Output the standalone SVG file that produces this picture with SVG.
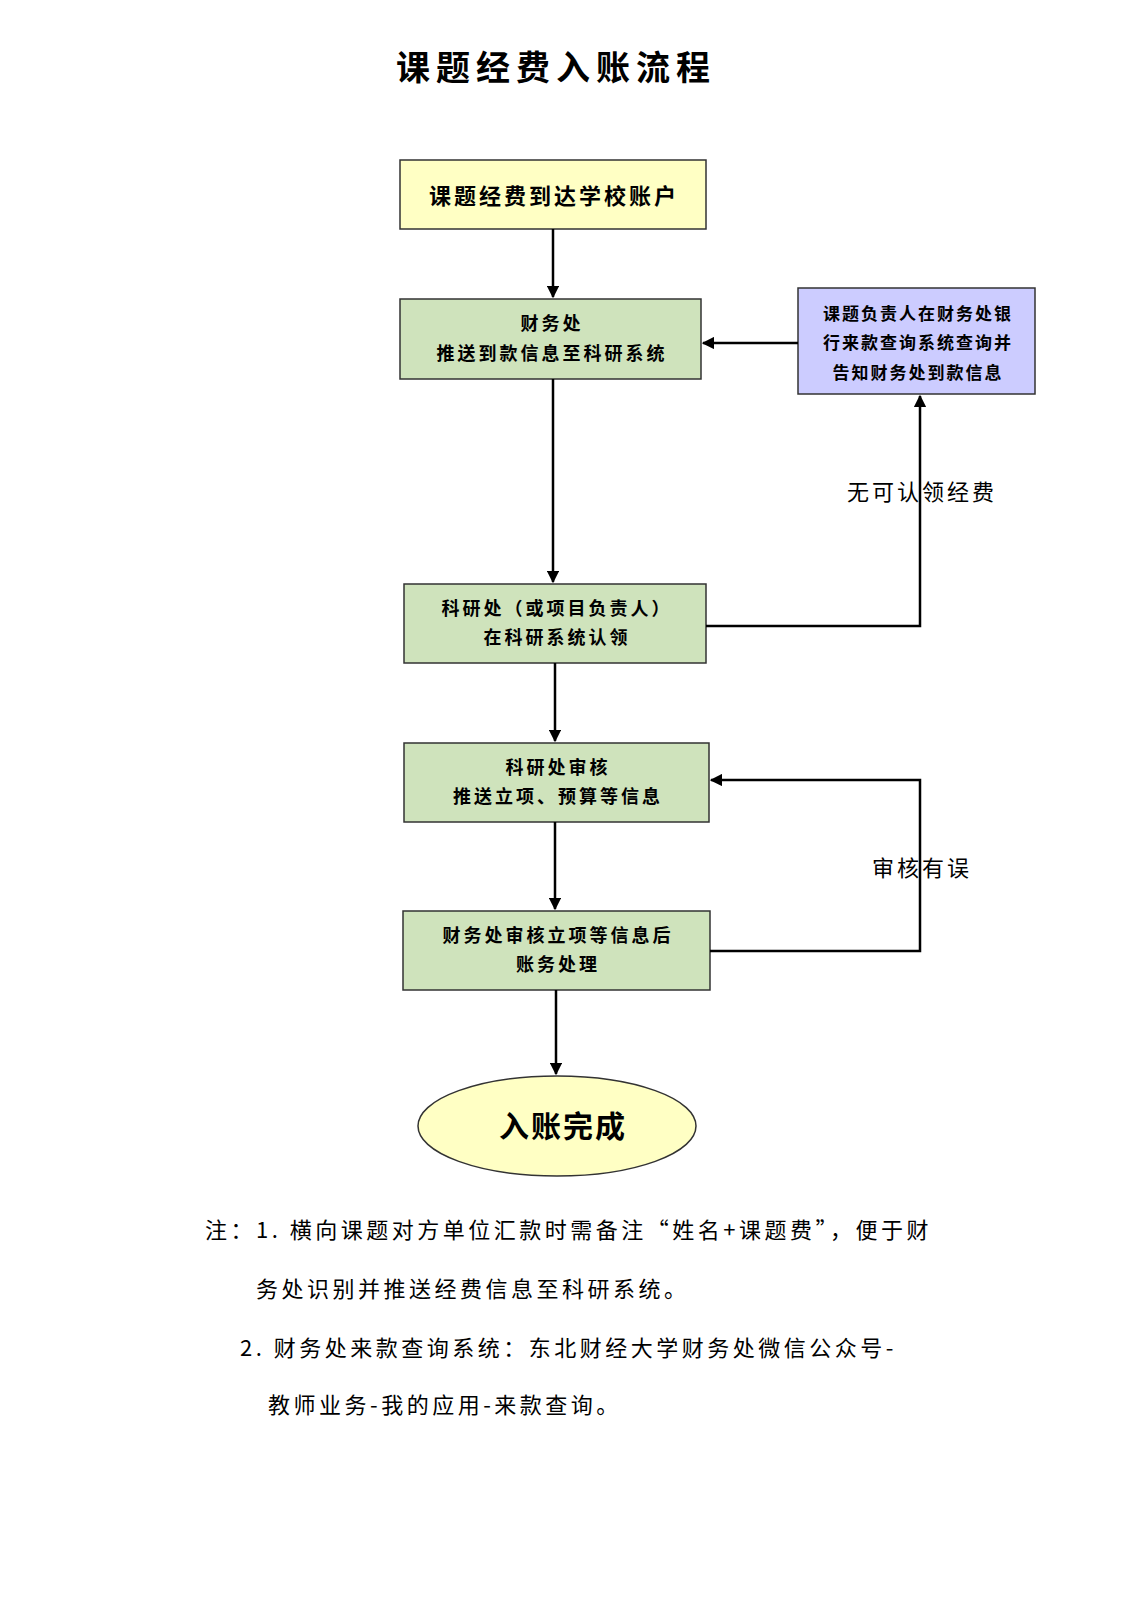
<svg xmlns="http://www.w3.org/2000/svg" width="1131" height="1600" viewBox="0 0 1131 1600">
<style>
text{font-family:"Noto Sans CJK SC","Noto Sans",sans-serif;fill:#000}
.b{stroke:#333;stroke-width:1.5}
.g{fill:#cfe3bc}
.t{font-size:18px;text-anchor:middle;font-weight:bold;letter-spacing:3px}
.c{fill:none;stroke:#000;stroke-width:2.5}
.n{font-size:22px;letter-spacing:3.5px}
</style>
<defs><marker id="a" viewBox="0 0 10 10" refX="9" refY="5" markerWidth="5" markerHeight="5" orient="auto"><path d="M0,0L10,5L0,10z" fill="#000"/></marker></defs>
<rect width="1131" height="1600" fill="#fff"/>
<text x="556" y="80" font-size="34" text-anchor="middle" font-weight="bold" letter-spacing="6">课题经费入账流程</text>
<g id="n1"><rect class="b" x="400" y="160" width="306" height="69" fill="#ffffc4"/><text class="t" x="554" y="204" style="font-size:22px">课题经费到达学校账户</text></g>
<g id="n2"><rect class="b g" x="400" y="299" width="301" height="80"/><text class="t" x="552" y="330">财务处</text><text class="t" x="552" y="360">推送到款信息至科研系统</text></g>
<g id="n6"><rect class="b" x="798" y="288" width="237" height="106" fill="#ccccff"/><text class="t" x="918" y="320" style="font-size:17px;letter-spacing:2px">课题负责人在财务处银</text><text class="t" x="918" y="349" style="font-size:17px;letter-spacing:2px">行来款查询系统查询并</text><text class="t" x="918" y="379" style="font-size:17px;letter-spacing:2px">告知财务处到款信息</text></g>
<g id="n3"><rect class="b g" x="404" y="584" width="302" height="79"/><text class="t" x="557" y="615">科研处（或项目负责人）</text><text class="t" x="557" y="644">在科研系统认领</text></g>
<g id="n4"><rect class="b g" x="404" y="743" width="305" height="79"/><text class="t" x="558" y="774">科研处审核</text><text class="t" x="558" y="803">推送立项、预算等信息</text></g>
<g id="n5"><rect class="b g" x="403" y="911" width="307" height="79"/><text class="t" x="558" y="942">财务处审核立项等信息后</text><text class="t" x="558" y="971">账务处理</text></g>
<g id="n7"><ellipse class="b" cx="557" cy="1126" rx="139" ry="50" fill="#ffffc4"/><text x="563" y="1137" font-size="30" text-anchor="middle" font-weight="bold" letter-spacing="2">入账完成</text></g>
<g id="connectors">
<path class="c" d="M553,229V297" marker-end="url(#a)"/>
<path class="c" d="M553,379V582" marker-end="url(#a)"/>
<path class="c" d="M555,663V741" marker-end="url(#a)"/>
<path class="c" d="M555,822V909" marker-end="url(#a)"/>
<path class="c" d="M556,990V1074" marker-end="url(#a)"/>
<path class="c" d="M798,343H703" marker-end="url(#a)"/>
<path class="c" d="M706,626H920V396" marker-end="url(#a)"/>
<path class="c" d="M710,951H920V780H711" marker-end="url(#a)"/>
<text x="922" y="500" font-size="22" text-anchor="middle" letter-spacing="3">无可认领经费</text>
<text x="922" y="876" font-size="22" text-anchor="middle" letter-spacing="3">审核有误</text>
</g>
<text class="n" x="205" y="1238">注：1.  横向课题对方单位汇款时需备注“姓名+课题费”，便于财</text>
<text class="n" x="256" y="1297">务处识别并推送经费信息至科研系统。</text>
<text class="n" x="240" y="1356">2.  财务处来款查询系统：东北财经大学财务处微信公众号-</text>
<text class="n" x="268" y="1413">教师业务-我的应用-来款查询。</text>
</svg>
